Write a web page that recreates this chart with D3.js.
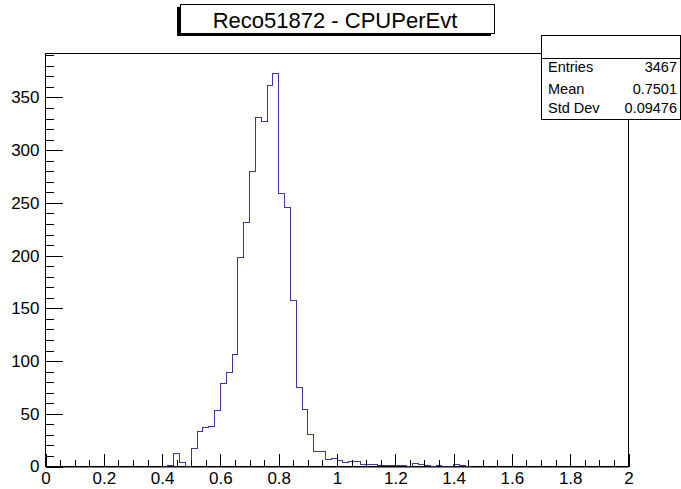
<!DOCTYPE html>
<html>
<head>
<meta charset="utf-8">
<script src="https://cdn.jsdelivr.net/npm/d3@7"></script>
<style>
  html, body { margin: 0; padding: 0; background: #ffffff; }
  svg { display: block; font-family: "Liberation Sans", Arial, Helvetica, sans-serif; }
</style>
</head>
<body>
<svg id="chart" width="681" height="489"></svg>
<script>
// ---- data ----
const titleText = "Reco51872 - CPUPerEvt";
const xDomain = [0, 2];
const firstBinLow = 0.40;
const binWidth = 0.02;
// counts for consecutive bins starting at 0.40 (width 0.02)
const counts = [
  0, 1, 12, 4, 0, 17, 33, 37, 38, 53,
  79, 89, 106, 198, 231, 280, 331, 327, 361, 373,
  259, 246, 157, 75, 54, 30, 14, 14, 7, 8,
  6, 4, 5, 5, 2, 2, 2, 1, 1, 1,
  1, 1, 0, 3, 2, 1, 0, 1, 0, 0,
  2, 1, 0
];
const xTickValues = [0, 0.2, 0.4, 0.6, 0.8, 1, 1.2, 1.4, 1.6, 1.8, 2];
const xTickLabels = ["0", "0.2", "0.4", "0.6", "0.8", "1", "1.2", "1.4", "1.6", "1.8", "2"];
const yTickValues = [0, 50, 100, 150, 200, 250, 300, 350];
const statNames = ["Entries", "Mean", "Std Dev"];
const statValues = ["3467", "0.7501", "0.09476"];

// ---- layout ----
const svg = d3.select("#chart");
const L = 45, R = 628, T = 53, B = 466;
const yMax = d3.max(counts) * 1.05;

const x = d3.scaleLinear().domain(xDomain).range([L, R]);
const y = d3.scaleLinear().domain([0, yMax]).range([B, T]);

const lineColor = "#3a3a9c";

// frame
svg.append("rect")
  .attr("x", L + 0.5).attr("y", T + 0.5)
  .attr("width", R - L).attr("height", B - T)
  .attr("fill", "none").attr("stroke", "#000").attr("stroke-width", 1);

// histogram step path
let pts = [];
const x0 = x(firstBinLow);
pts.push([x0, y(0)]);
counts.forEach((c, i) => {
  const lo = firstBinLow + i * binWidth;
  const hi = lo + binWidth;
  pts.push([x(lo), y(c)]);
  pts.push([x(hi), y(c)]);
});
pts.push([x(firstBinLow + counts.length * binWidth), y(0)]);
const pathStr = "M" + pts.map(p => (Math.round(p[0]) + 0.5) + "," + (Math.round(p[1]) + 0.5)).join("L");
svg.append("path")
  .attr("d", pathStr)
  .attr("fill", "none")
  .attr("stroke", lineColor)
  .attr("stroke-width", 1)
  .attr("shape-rendering", "crispEdges");

// ---- axes ----
const xMajorLen = 0.03 * (B - T);
const yMajorLen = 0.03 * (R - L);

// x minor ticks
const xMinor = d3.range(0, 2.0001, 0.05).filter(v => Math.abs(Math.round(v / 0.2) * 0.2 - v) > 1e-6);
const gxMinor = svg.append("g").attr("transform", `translate(0.5,${B + 0.5})`)
  .call(d3.axisBottom(x).tickValues(xMinor).tickSize(-xMajorLen / 2).tickFormat(""));
gxMinor.select(".domain").remove();

const gx = svg.append("g").attr("transform", `translate(0.5,${B + 0.5})`)
  .call(d3.axisBottom(x).tickValues(xTickValues).tickSize(-xMajorLen).tickPadding(5)
    .tickFormat((d, i) => xTickLabels[i]));
gx.select(".domain").attr("stroke", "#000");
gx.selectAll("text").attr("font-size", 17).attr("fill", "#000")
  .attr("font-family", "Liberation Sans, Arial, sans-serif");
[gx, gxMinor].forEach(g => g.selectAll("line").attr("stroke", "#000").attr("shape-rendering", "crispEdges"));

// y minor ticks
const yMinor = d3.range(0, yMax, 10).filter(v => v % 50 !== 0);
const gyMinor = svg.append("g").attr("transform", `translate(${L + 0.5},0.5)`)
  .call(d3.axisLeft(y).tickValues(yMinor).tickSize(-yMajorLen / 2).tickFormat(""));
gyMinor.select(".domain").remove();

const gy = svg.append("g").attr("transform", `translate(${L + 0.5},0.5)`)
  .call(d3.axisLeft(y).tickValues(yTickValues).tickSize(-yMajorLen).tickPadding(6)
    .tickFormat(d3.format("d")));
gy.select(".domain").remove();
gy.selectAll("text").attr("font-size", 17).attr("fill", "#000")
  .attr("font-family", "Liberation Sans, Arial, sans-serif");
[gy, gyMinor].forEach(g => g.selectAll("line").attr("stroke", "#000").attr("shape-rendering", "crispEdges"));

// ---- title box ----
const tb = { x: 180, y: 4, w: 314, h: 29 };
svg.append("rect")
  .attr("x", tb.x - 3).attr("y", tb.y + 3).attr("width", tb.w).attr("height", tb.h)
  .attr("fill", "#000");
svg.append("rect")
  .attr("x", tb.x + 0.5).attr("y", tb.y + 0.5).attr("width", tb.w).attr("height", tb.h)
  .attr("fill", "#fff").attr("stroke", "#000").attr("stroke-width", 1);
svg.append("text")
  .attr("x", tb.x + tb.w / 2 - 2).attr("y", 28)
  .attr("text-anchor", "middle")
  .attr("font-size", 22)
  .attr("fill", "#000")
  .text(titleText);

// ---- stats box ----
const sb = { x: 541, y: 35, w: 139, h: 84 };
svg.append("rect")
  .attr("x", sb.x + 0.5).attr("y", sb.y + 0.5).attr("width", sb.w).attr("height", sb.h)
  .attr("fill", "#fff").attr("stroke", "#000").attr("stroke-width", 1);
svg.append("line")
  .attr("x1", sb.x).attr("x2", sb.x + sb.w)
  .attr("y1", 58.5).attr("y2", 58.5)
  .attr("stroke", "#000");
const statBaselines = [72, 94, 113];
statNames.forEach((n, i) => {
  svg.append("text").attr("x", 548).attr("y", statBaselines[i])
    .attr("font-size", 14.5).attr("fill", "#000").text(n);
  svg.append("text").attr("x", 677).attr("y", statBaselines[i])
    .attr("text-anchor", "end")
    .attr("font-size", 14.5).attr("fill", "#000").text(statValues[i]);
});
</script>
</body>
</html>
